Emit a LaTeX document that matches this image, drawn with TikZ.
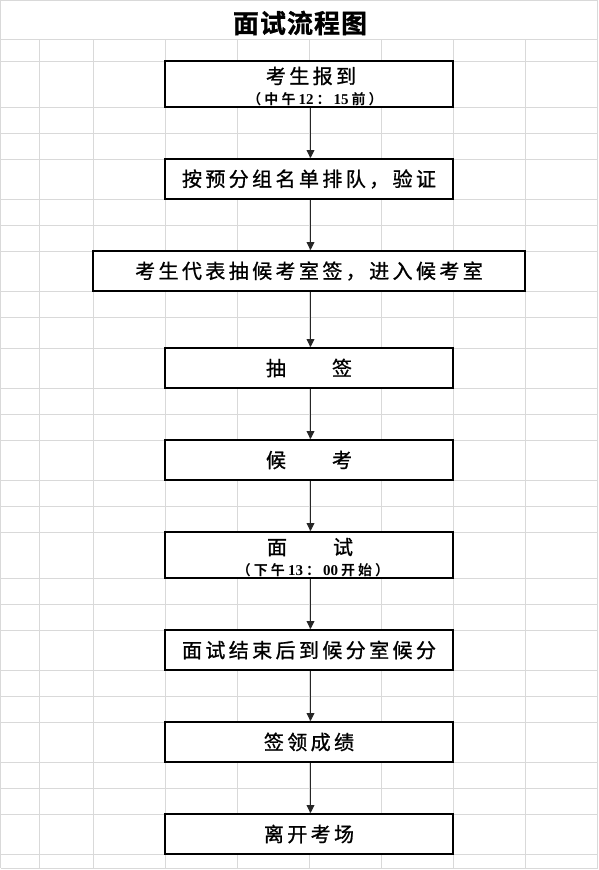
\documentclass[tikz,border=0pt]{standalone}
\usepackage{fontspec}
\usetikzlibrary{arrows.meta}
\newfontfamily\cjk[LetterSpace=17,FakeBold=1]{Noto Sans CJK SC}
\newfontfamily\cjkbold[LetterSpace=22]{Noto Sans CJK SC Bold}
\newfontfamily\cjktitle[LetterSpace=4,FakeBold=1]{Noto Sans CJK SC Bold}
\newfontfamily\digitfont{Liberation Serif}
\definecolor{gridgray}{HTML}{D9D9D9}
\newcommand{\lowtext}[1]{\raisebox{-1.5pt}{#1}}
\newcommand{\dig}[1]{\hspace{3pt}{\digitfont\bfseries\fontsize{15}{16}\selectfont #1}\hspace{3pt}}
\begin{document}
\begin{tikzpicture}[x=1pt,y=-1pt,
  flowbox/.style={draw=black, line width=2pt, fill=white, minimum width=288pt, minimum height=40pt, inner sep=0pt, font=\cjk\fontsize{20}{23}\selectfont},
  subtext/.style={inner sep=0pt, font=\cjkbold\fontsize{14}{16}\selectfont},
  maintext/.style={inner sep=0pt, font=\cjk\fontsize{20}{23}\selectfont},
  flowarrow/.style={draw=black!85, line width=0.9pt, -{Triangle[length=8pt,width=8pt]}},
  gridline/.style={draw=gridgray, line width=1pt}]
\useasboundingbox (0,0) rectangle (598,870);
\fill[white] (0,0) rectangle (598,870);
% grid
\foreach \y in {0.5,39,61,107,133,159,199,225,251,291,317,348,388,414,440,480,506,532,578,604,630,670,696,722,762,788,814,854,868}
  \draw[gridline] (0.5,\y) -- (597.5,\y);
\draw[gridline] (0.5,0) -- (0.5,868);
\draw[gridline] (597.5,0) -- (597.5,868);
\foreach \x in {39,93,165,237,309,381,453,525}
  \draw[gridline] (\x,39) -- (\x,868);
% title
\node[inner sep=0pt, font=\cjktitle\fontsize{26}{30}\selectfont] (title) at (300,23) {面试流程图};
% boxes
\node[flowbox, minimum height=46pt] (b1) at (309,84) {};
\node[maintext] (t1) at (311,76) {考生报到};
\node[subtext] (s1) at (315,99) {（中午\dig{12}：\dig{15}前）};
\node[flowbox] (b2) at (309,179) {\lowtext{按预分组名单排队，验证}};
\node[flowbox, minimum width=432pt] (b3) at (309,271) {\lowtext{考生代表抽候考室签，进入候考室}};
\node[flowbox] (b4) at (309,368) {\lowtext{抽\hspace{46pt}签}};
\node[flowbox] (b5) at (309,460) {\lowtext{候\hspace{46pt}考}};
\node[flowbox, minimum height=46pt] (b6) at (309,555) {};
\node[maintext] (t6) at (310,547) {面\hspace{46pt}试};
\node[subtext] (s6) at (313,570) {（下午\dig{13}：\dig{00}开始）};
\node[flowbox] (b7) at (309,650) {\lowtext{面试结束后到候分室候分}};
\node[flowbox] (b8) at (309,742) {\lowtext{签领成绩}};
\node[flowbox] (b9) at (309,834) {\lowtext{离开考场}};
% arrows
\foreach \a/\b in {b1/b2,b2/b3,b3/b4,b4/b5,b5/b6,b6/b7,b7/b8,b8/b9}
  \draw[flowarrow] ([xshift=1.5pt]\a.south) -- ([xshift=1.5pt]\b.north);
\end{tikzpicture}
\end{document}
